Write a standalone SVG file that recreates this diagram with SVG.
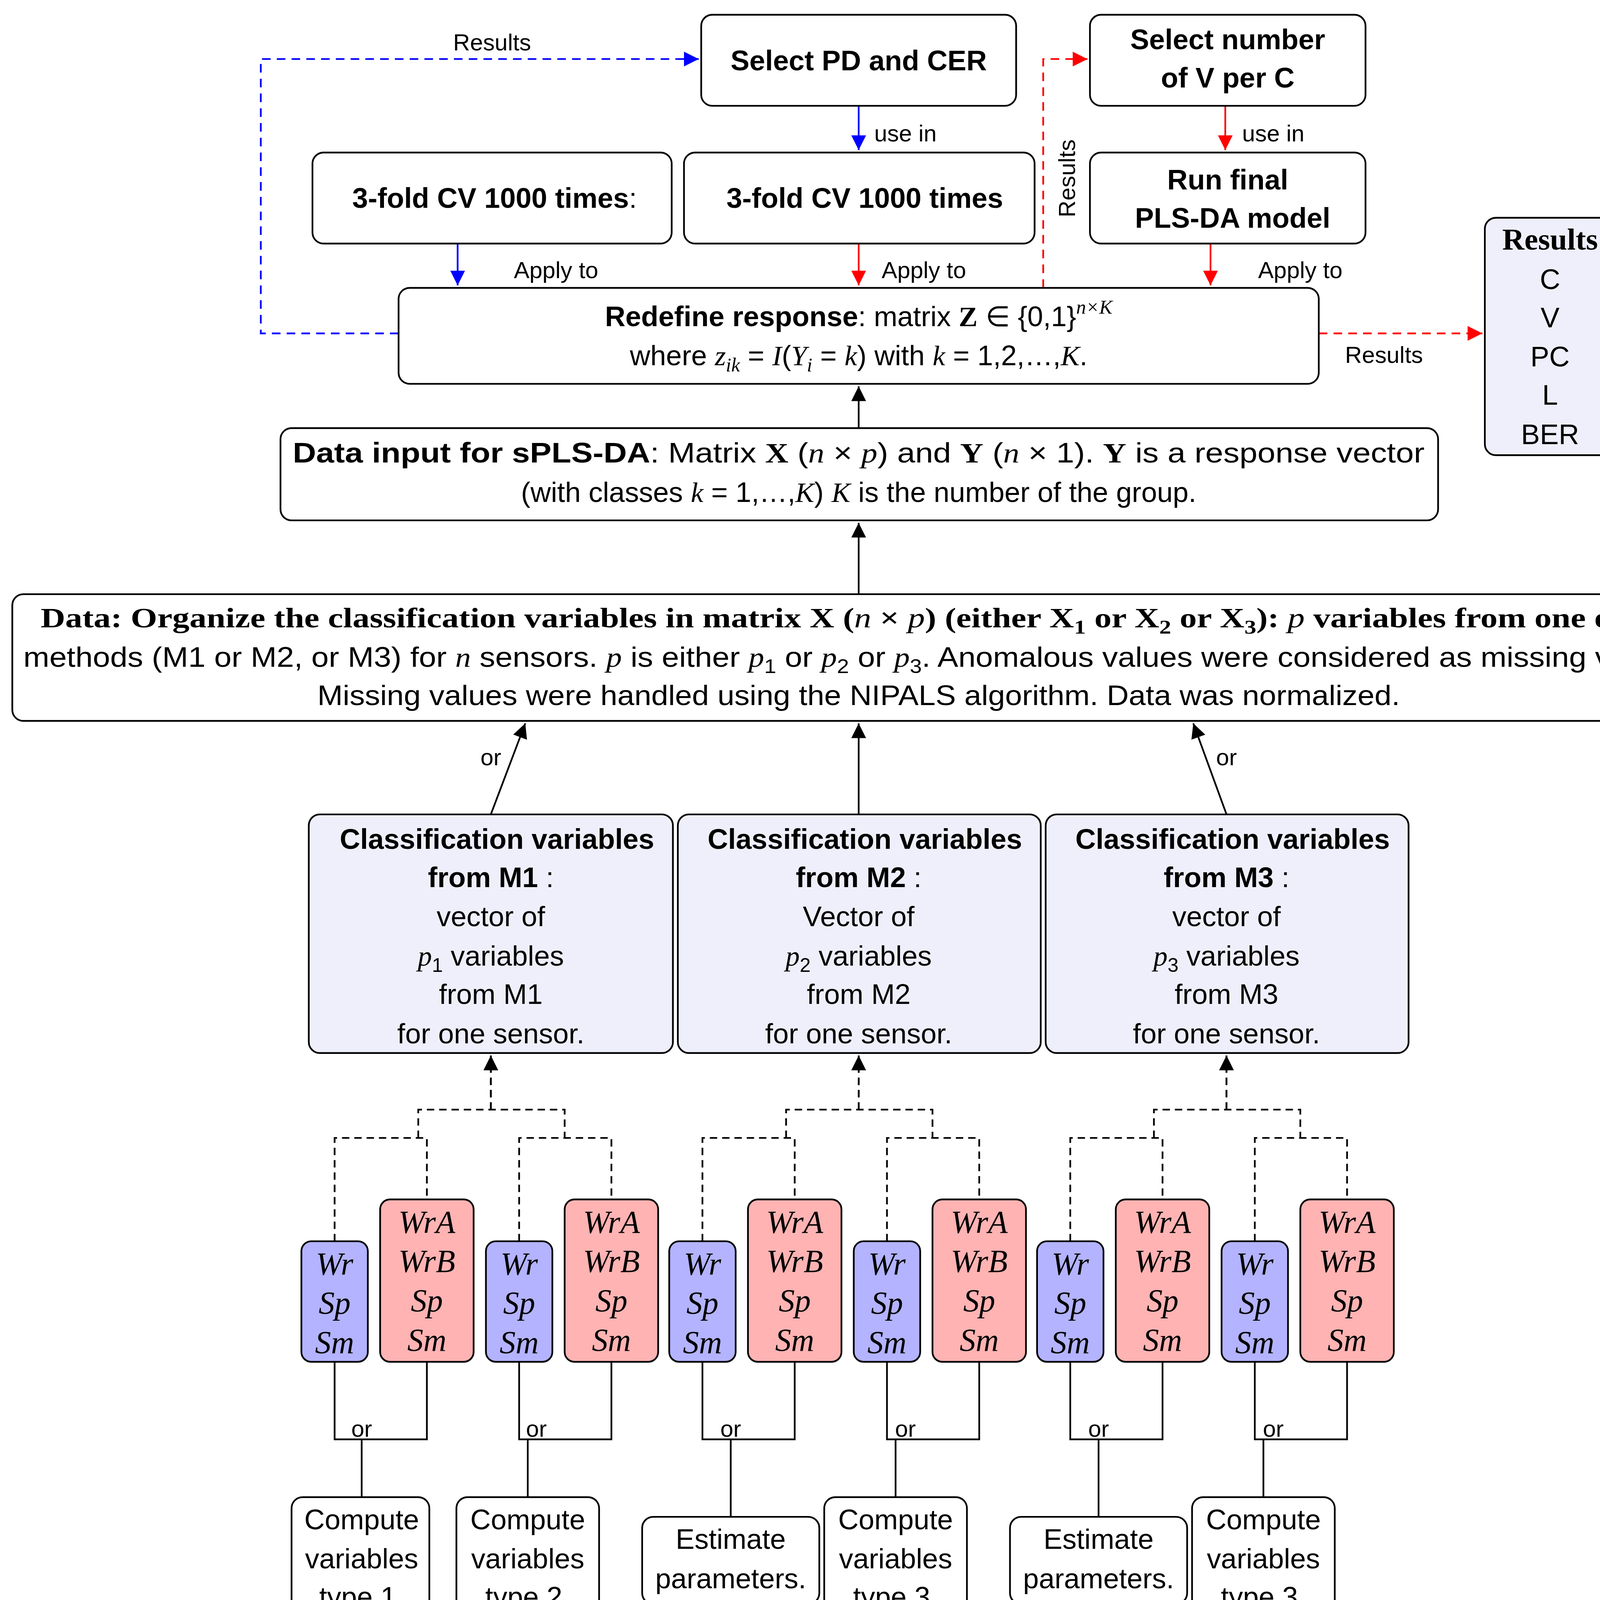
<svg xmlns="http://www.w3.org/2000/svg" width="4409" height="4952" viewBox="0 0 4409 4952">
<style>
.b{fill:#fff;stroke:#000;stroke-width:1.4}
.l{fill:#efeffc;stroke:#000;stroke-width:1.4}
.bl{fill:#b3b3ff;stroke:#000;stroke-width:1.4}
.rd{fill:#ffb3b3;stroke:#000;stroke-width:1.4}
text{font-family:"Liberation Sans",Arial,sans-serif;font-size:23px;fill:#000;text-anchor:middle}
.s{font-size:19px}
.bf{font-weight:bold}
.m{font-family:"Liberation Serif","Times New Roman",serif;font-style:italic}
.sv{font-family:"Liberation Serif","Times New Roman",serif;font-style:italic;font-size:26px}
.c{fill:none;stroke:#000;stroke-width:1.4}
.d{fill:none;stroke:#000;stroke-width:1.4;stroke-dasharray:6 4}
.cb{fill:none;stroke:#00f;stroke-width:1.4}
.cr{fill:none;stroke:#f00;stroke-width:1.4}
.db{fill:none;stroke:#00f;stroke-width:1.4;stroke-dasharray:7 5}
.dr{fill:none;stroke:#f00;stroke-width:1.4;stroke-dasharray:7 5}
</style>
<defs>
<marker id="ak" viewBox="0 0 10 10" refX="10" refY="5" markerUnits="userSpaceOnUse" markerWidth="12" markerHeight="12" orient="auto"><path d="M0,0L10,5L0,10z" fill="#000"/></marker>
<marker id="ab" viewBox="0 0 10 10" refX="10" refY="5" markerUnits="userSpaceOnUse" markerWidth="12" markerHeight="12" orient="auto"><path d="M0,0L10,5L0,10z" fill="#00f"/></marker>
<marker id="ar" viewBox="0 0 10 10" refX="10" refY="5" markerUnits="userSpaceOnUse" markerWidth="12" markerHeight="12" orient="auto"><path d="M0,0L10,5L0,10z" fill="#f00"/></marker>
</defs>
<rect width="4409" height="4952" fill="#fff"/>
<g transform="scale(3.1493)">
<g id="connectors">
<path class="db" d="M324,271H212V48H568" marker-end="url(#ab)"/>
<text class="s" x="400" y="41">Results</text>
<path class="cb" d="M698,86V122" marker-end="url(#ab)"/>
<text class="s" x="736" y="115">use in</text>
<path class="cr" d="M996,86V122" marker-end="url(#ar)"/>
<text class="s" x="1035" y="115">use in</text>
<path class="cb" d="M372,198V232" marker-end="url(#ab)"/>
<text class="s" x="452" y="226">Apply to</text>
<path class="cr" d="M698,198V232" marker-end="url(#ar)"/>
<text class="s" x="751" y="226">Apply to</text>
<path class="cr" d="M984,198V232" marker-end="url(#ar)"/>
<text class="s" x="1057" y="226">Apply to</text>
<path class="dr" d="M848,234V48H884" marker-end="url(#ar)"/>
<text class="s" transform="translate(874,145) rotate(-90)">Results</text>
<path class="dr" d="M1072,271H1205" marker-end="url(#ar)"/>
<text class="s" x="1125" y="295">Results</text>
<path class="c" d="M698,348V314" marker-end="url(#ak)"/>
<path class="c" d="M698,483V425" marker-end="url(#ak)"/>
<path class="c" d="M399,662L427,588" marker-end="url(#ak)"/>
<text class="s" x="399" y="622">or</text>
<path class="c" d="M698,662V588" marker-end="url(#ak)"/>
<path class="c" d="M997,662L970,588" marker-end="url(#ak)"/>
<text class="s" x="997" y="622">or</text>
<!-- dashed brackets -->
<path class="d" d="M272,1009V925H347V975M422,1009V925H497V975M340,925V902H459V925M399,902V858"/>
<path class="d" d="M571,1009V925H646V975M721,1009V925H796V975M639,925V902H758V925M698,902V858"/>
<path class="d" d="M870,1009V925H945V975M1020,1009V925H1095V975M938,925V902H1057V925M997,902V858"/>
<path class="d" d="M399,902V858" marker-end="url(#ak)"/>
<path class="d" d="M698,902V858" marker-end="url(#ak)"/>
<path class="d" d="M997,902V858" marker-end="url(#ak)"/>
<!-- or brackets -->
<path class="c" d="M272,1107V1170H347V1107M294,1170V1217"/>
<path class="c" d="M422,1107V1170H497V1107M429,1170V1217"/>
<path class="c" d="M571,1107V1170H646V1107M594,1170V1233"/>
<path class="c" d="M721,1107V1170H796V1107M728,1170V1217"/>
<path class="c" d="M870,1107V1170H945V1107M893,1170V1233"/>
<path class="c" d="M1020,1107V1170H1095V1107M1027,1170V1217"/>
<text class="s" x="294" y="1168">or</text>
<text class="s" x="436" y="1168">or</text>
<text class="s" x="594" y="1168">or</text>
<text class="s" x="736" y="1168">or</text>
<text class="s" x="893" y="1168">or</text>
<text class="s" x="1035" y="1168">or</text>
<!-- and -->
<path class="c" d="M354,1391V1358H294V1322M354,1358H429V1322" marker-end="url(#ak)"/>
<path class="c" d="M294,1358V1322" marker-end="url(#ak)"/>
<text class="s" x="354" y="1350">and</text>
<path class="c" d="M690,1391V1358H594V1306M690,1358H728V1322" marker-end="url(#ak)"/>
<path class="c" d="M594,1358V1306" marker-end="url(#ak)"/>
<text class="s" x="690" y="1350">and</text>
<path class="c" d="M990,1391V1358H893V1306M990,1358H1027V1322" marker-end="url(#ak)"/>
<path class="c" d="M893,1358V1306" marker-end="url(#ak)"/>
<text class="s" x="990" y="1350">and</text>
<path class="c" d="M690,1504V1486H354V1446M690,1486H990V1446" marker-end="url(#ak)"/>
<path class="c" d="M354,1486V1446" marker-end="url(#ak)"/>
<path class="c" d="M690,1504V1446" marker-end="url(#ak)"/>
</g>
<g id="selectPD"><rect class="b" x="570" y="12" width="256" height="74" rx="9"/><text class="bf" x="698" y="57">Select PD and CER</text></g>
<g id="selectV"><rect class="b" x="886" y="12" width="224" height="74" rx="9"/><text class="bf" x="998" y="40">Select number</text><text class="bf" x="998" y="71">of V per C</text></g>
<g id="cv1"><rect class="b" x="254" y="124" width="292" height="74" rx="9"/><text x="402" y="169"><tspan class="bf">3-fold CV 1000 times</tspan>:</text></g>
<g id="cv2"><rect class="b" x="556" y="124" width="285" height="74" rx="9"/><text class="bf" x="703" y="169">3-fold CV 1000 times</text></g>
<g id="final"><rect class="b" x="886" y="124" width="224" height="74" rx="9"/><text class="bf" x="998" y="154">Run final</text><text class="bf" x="1002" y="185">PLS-DA model</text></g>
<g id="results"><rect class="l" x="1207" y="177" width="106" height="193" rx="9"/>
<text x="1260" y="203" style="font-family:'Liberation Serif',serif;font-weight:bold;font-size:25px">Results</text>
<text x="1260" y="235">C</text><text x="1260" y="266">V</text><text x="1260" y="298">PC</text><text x="1260" y="329">L</text><text x="1260" y="361">BER</text></g>
<g id="redefine"><rect class="b" x="324" y="234" width="748" height="78" rx="9"/>
<text x="698" y="265"><tspan class="bf">Redefine response</tspan>: matrix <tspan style="font-family:'Liberation Serif',serif;font-weight:bold">Z</tspan> ∈ {0,1}<tspan class="m" font-size="16" dy="-10">n×K</tspan></text>
<text x="698" y="297">where <tspan class="m">z</tspan><tspan class="m" font-size="16" dy="5">ik</tspan><tspan dy="-5"> = </tspan><tspan class="m">I</tspan>(<tspan class="m">Y</tspan><tspan class="m" font-size="16" dy="5">i</tspan><tspan dy="-5"> = </tspan><tspan class="m">k</tspan>) with <tspan class="m">k</tspan> = 1,2,…,<tspan class="m">K</tspan>.</text></g>
<g id="datainput"><rect class="b" x="228" y="348" width="941" height="75" rx="9"/>
<text x="698" y="376" textLength="920" lengthAdjust="spacingAndGlyphs"><tspan class="bf">Data input for sPLS-DA</tspan>: Matrix <tspan style="font-family:'Liberation Serif',serif;font-weight:bold">X</tspan> (<tspan class="m">n</tspan> × <tspan class="m">p</tspan>) and <tspan style="font-family:'Liberation Serif',serif;font-weight:bold">Y</tspan> (<tspan class="m">n</tspan> × 1). <tspan style="font-family:'Liberation Serif',serif;font-weight:bold">Y</tspan> is a response vector</text>
<text x="698" y="408">(with classes <tspan class="m">k</tspan> = 1,…,<tspan class="m">K</tspan>) <tspan class="m">K</tspan> is the number of the group.</text></g>
<g id="data"><rect class="b" x="10" y="483" width="1377" height="103" rx="9"/>
<text x="698" y="510" textLength="1330" lengthAdjust="spacingAndGlyphs" style="font-family:'Liberation Serif',serif;font-weight:bold">Data: Organize the classification variables in matrix X (<tspan font-style="italic" font-weight="normal">n</tspan> × <tspan font-style="italic" font-weight="normal">p</tspan>) (either X<tspan font-size="16" dy="5">1</tspan><tspan dy="-5"> or X</tspan><tspan font-size="16" dy="5">2</tspan><tspan dy="-5"> or X</tspan><tspan font-size="16" dy="5">3</tspan><tspan dy="-5">): </tspan><tspan font-style="italic" font-weight="normal">p</tspan> variables from one of the</text>
<text x="698" y="542" textLength="1358" lengthAdjust="spacingAndGlyphs">methods (M1 or M2, or M3) for <tspan class="m">n</tspan> sensors. <tspan class="m">p</tspan> is either <tspan class="m">p</tspan><tspan font-size="16" dy="5">1</tspan><tspan dy="-5"> or </tspan><tspan class="m">p</tspan><tspan font-size="16" dy="5">2</tspan><tspan dy="-5"> or </tspan><tspan class="m">p</tspan><tspan font-size="16" dy="5">3</tspan><tspan dy="-5">. Anomalous values were considered as missing values.</tspan></text>
<text x="698" y="573" textLength="880" lengthAdjust="spacingAndGlyphs">Missing values were handled using the NIPALS algorithm. Data was normalized.</text></g>
<g id="cls1"><rect class="l" x="251" y="662" width="296" height="194" rx="9"/>
<text class="bf" x="404" y="690">Classification variables</text><text x="399" y="721"><tspan class="bf">from M1</tspan> :</text><text x="399" y="753">vector of</text><text x="399" y="785"><tspan class="m">p</tspan><tspan font-size="16" dy="5">1</tspan><tspan dy="-5"> variables</tspan></text><text x="399" y="816">from M1</text><text x="399" y="848">for one sensor.</text></g>
<g id="cls2"><rect class="l" x="551" y="662" width="295" height="194" rx="9"/>
<text class="bf" x="703" y="690">Classification variables</text><text x="698" y="721"><tspan class="bf">from M2</tspan> :</text><text x="698" y="753">Vector of</text><text x="698" y="785"><tspan class="m">p</tspan><tspan font-size="16" dy="5">2</tspan><tspan dy="-5"> variables</tspan></text><text x="698" y="816">from M2</text><text x="698" y="848">for one sensor.</text></g>
<g id="cls3"><rect class="l" x="850" y="662" width="295" height="194" rx="9"/>
<text class="bf" x="1002" y="690">Classification variables</text><text x="997" y="721"><tspan class="bf">from M3</tspan> :</text><text x="997" y="753">vector of</text><text x="997" y="785"><tspan class="m">p</tspan><tspan font-size="16" dy="5">3</tspan><tspan dy="-5"> variables</tspan></text><text x="997" y="816">from M3</text><text x="997" y="848">for one sensor.</text></g>
<g id="b1"><rect class="bl" x="245" y="1009" width="54" height="98" rx="8"/><text class="sv" x="272" y="1036">Wr</text><text class="sv" x="272" y="1068">Sp</text><text class="sv" x="272" y="1100">Sm</text></g>
<g id="r1"><rect class="rd" x="309" y="975" width="76" height="132" rx="8"/><text class="sv" x="347" y="1002">WrA</text><text class="sv" x="347" y="1034">WrB</text><text class="sv" x="347" y="1066">Sp</text><text class="sv" x="347" y="1098">Sm</text></g>
<g id="b2"><rect class="bl" x="395" y="1009" width="54" height="98" rx="8"/><text class="sv" x="422" y="1036">Wr</text><text class="sv" x="422" y="1068">Sp</text><text class="sv" x="422" y="1100">Sm</text></g>
<g id="r2"><rect class="rd" x="459" y="975" width="76" height="132" rx="8"/><text class="sv" x="497" y="1002">WrA</text><text class="sv" x="497" y="1034">WrB</text><text class="sv" x="497" y="1066">Sp</text><text class="sv" x="497" y="1098">Sm</text></g>
<g id="b3"><rect class="bl" x="544" y="1009" width="54" height="98" rx="8"/><text class="sv" x="571" y="1036">Wr</text><text class="sv" x="571" y="1068">Sp</text><text class="sv" x="571" y="1100">Sm</text></g>
<g id="r3"><rect class="rd" x="608" y="975" width="76" height="132" rx="8"/><text class="sv" x="646" y="1002">WrA</text><text class="sv" x="646" y="1034">WrB</text><text class="sv" x="646" y="1066">Sp</text><text class="sv" x="646" y="1098">Sm</text></g>
<g id="b4"><rect class="bl" x="694" y="1009" width="54" height="98" rx="8"/><text class="sv" x="721" y="1036">Wr</text><text class="sv" x="721" y="1068">Sp</text><text class="sv" x="721" y="1100">Sm</text></g>
<g id="r4"><rect class="rd" x="758" y="975" width="76" height="132" rx="8"/><text class="sv" x="796" y="1002">WrA</text><text class="sv" x="796" y="1034">WrB</text><text class="sv" x="796" y="1066">Sp</text><text class="sv" x="796" y="1098">Sm</text></g>
<g id="b5"><rect class="bl" x="843" y="1009" width="54" height="98" rx="8"/><text class="sv" x="870" y="1036">Wr</text><text class="sv" x="870" y="1068">Sp</text><text class="sv" x="870" y="1100">Sm</text></g>
<g id="r5"><rect class="rd" x="907" y="975" width="76" height="132" rx="8"/><text class="sv" x="945" y="1002">WrA</text><text class="sv" x="945" y="1034">WrB</text><text class="sv" x="945" y="1066">Sp</text><text class="sv" x="945" y="1098">Sm</text></g>
<g id="b6"><rect class="bl" x="993" y="1009" width="54" height="98" rx="8"/><text class="sv" x="1020" y="1036">Wr</text><text class="sv" x="1020" y="1068">Sp</text><text class="sv" x="1020" y="1100">Sm</text></g>
<g id="r6"><rect class="rd" x="1057" y="975" width="76" height="132" rx="8"/><text class="sv" x="1095" y="1002">WrA</text><text class="sv" x="1095" y="1034">WrB</text><text class="sv" x="1095" y="1066">Sp</text><text class="sv" x="1095" y="1098">Sm</text></g>
<g id="cv1b"><rect class="b" x="237" y="1217" width="112" height="103" rx="9"/><text x="294" y="1243">Compute</text><text x="294" y="1275">variables</text><text x="294" y="1306">type 1.</text></g>
<g id="cv2b"><rect class="b" x="371" y="1217" width="116" height="103" rx="9"/><text x="429" y="1243">Compute</text><text x="429" y="1275">variables</text><text x="429" y="1306">type 2.</text></g>
<g id="est2"><rect class="b" x="522" y="1233" width="144" height="71" rx="9"/><text x="594" y="1259">Estimate</text><text x="594" y="1291">parameters.</text></g>
<g id="cv3b"><rect class="b" x="670" y="1217" width="116" height="103" rx="9"/><text x="728" y="1243">Compute</text><text x="728" y="1275">variables</text><text x="728" y="1306">type 3.</text></g>
<g id="est3"><rect class="b" x="821" y="1233" width="144" height="71" rx="9"/><text x="893" y="1259">Estimate</text><text x="893" y="1291">parameters.</text></g>
<g id="cv3c"><rect class="b" x="969" y="1217" width="116" height="103" rx="9"/><text x="1027" y="1243">Compute</text><text x="1027" y="1275">variables</text><text x="1027" y="1306">type 3.</text></g>
<g id="m1"><rect class="l" x="306" y="1391" width="97" height="53" rx="9"/><text x="354" y="1426">M1</text></g>
<g id="m2"><rect class="l" x="642" y="1391" width="97" height="53" rx="9"/><text x="690" y="1426">M2</text></g>
<g id="m3"><rect class="l" x="942" y="1391" width="97" height="53" rx="9"/><text x="990" y="1426">M3</text></g>
<g id="carry"><rect class="b" x="379" y="1504" width="624" height="52" rx="9"/><text x="691" y="1538">Carry out methods (M1, M2 and M3) for each sensor.</text></g>
</g>
</svg>
